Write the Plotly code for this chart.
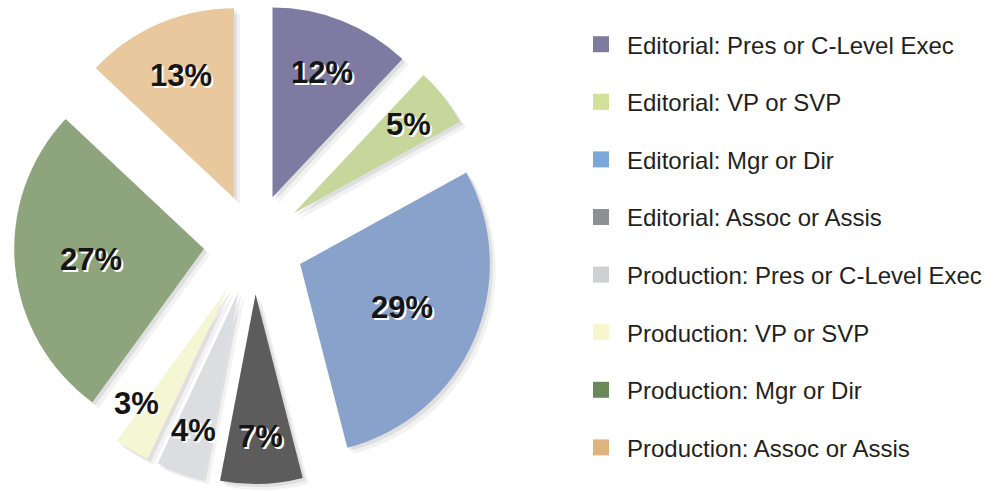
import math
import plotly.graph_objects as go

# Staff breakdown by department and level
categories = [
    "Editorial: Pres or C-Level Exec",
    "Editorial: VP or SVP",
    "Editorial: Mgr or Dir",
    "Editorial: Assoc or Assis",
    "Production: Pres or C-Level Exec",
    "Production: VP or SVP",
    "Production: Mgr or Dir",
    "Production: Assoc or Assis",
]
shares = [12, 5, 29, 7, 4, 3, 27, 13]

slice_colors = ["#7e7aa2", "#c7d79b", "#89a2cc", "#5c5c5c",
                "#dcdde0", "#f5f6d3", "#8ea47d", "#eac89d"]
legend_colors = ["#7f7aa0", "#d2e09a", "#7aa8d8", "#8e8f92",
                 "#cfd0d2", "#f7f6cc", "#6a8858", "#deb47e"]

W, H = 1000, 491
PULL = 0.265
dom_x = [0.014, 0.494]
dom_y = [0.0142, 0.9918]

fig = go.Figure()

# soft drop shadow under the exploded pie
for off, alpha in [(6, 0.05), (3, 0.08)]:
    fig.add_trace(go.Pie(
        values=shares, labels=categories, sort=False, direction="clockwise",
        rotation=0, pull=PULL, textinfo="none", hoverinfo="skip",
        marker=dict(colors=[f"rgba(0,0,0,{alpha})"] * len(shares), line=dict(width=0)),
        domain=dict(x=[dom_x[0] + off / W, dom_x[1] + off / W],
                    y=[dom_y[0] - off / H, dom_y[1] - off / H]),
        showlegend=False,
    ))

fig.add_trace(go.Pie(
    values=shares, labels=categories, sort=False, direction="clockwise",
    rotation=0, pull=PULL, textinfo="none",
    marker=dict(colors=slice_colors, line=dict(width=0)),
    domain=dict(x=dom_x, y=dom_y),
    showlegend=False,
))

# legend entries
for i, (name, col) in enumerate(zip(categories, legend_colors)):
    fig.add_trace(go.Scatter(
        x=[None], y=[None], mode="markers", name=name,
        marker=dict(symbol="square", size=18, color=col),
        legendgroup=f"g{i}",
    ))

# percentage labels placed along each slice bisector
cx = (dom_x[0] + dom_x[1]) / 2 * W
cy = (1 - (dom_y[0] + dom_y[1]) / 2) * H
r = min((dom_x[1] - dom_x[0]) * W, (dom_y[1] - dom_y[0]) * H) / (2 * (1 + PULL))
total = sum(shares)
cum = 0
annotations = []
for v in shares:
    pct = 100 * v / total
    mid = (cum + v / 2) / total * 2 * math.pi
    cum += v
    frac = 0.8 - 0.0075 * pct
    # the thinnest wedges carry their label a little wider of the tip
    if pct < 3.5:
        mid += 0.10
    dist = PULL * r + frac * r
    px = cx + dist * math.sin(mid)
    py = cy - dist * math.cos(mid)
    annotations.append(dict(
        x=px / W, y=1 - py / H, xref="paper", yref="paper",
        text=f"{round(pct)}%", showarrow=False,
        font=dict(family="Liberation Sans, Arial, sans-serif", size=31,
                  color="#151515", weight="bold", shadow="2px 2px 0px white"),
        xanchor="center", yanchor="middle",
    ))

fig.update_layout(
    width=W, height=H,
    margin=dict(l=0, r=0, t=0, b=0),
    paper_bgcolor="white", plot_bgcolor="white",
    xaxis=dict(visible=False), yaxis=dict(visible=False),
    annotations=annotations,
    legend=dict(
        x=0.575, y=0.955, xanchor="left", yanchor="top",
        font=dict(family="Liberation Sans, Arial, sans-serif", size=24, color="#231f20"),
        itemwidth=42, tracegroupgap=23.4, bgcolor="rgba(0,0,0,0)",
        itemclick=False, itemdoubleclick=False,
    ),
)

fig.write_html("out.html")
